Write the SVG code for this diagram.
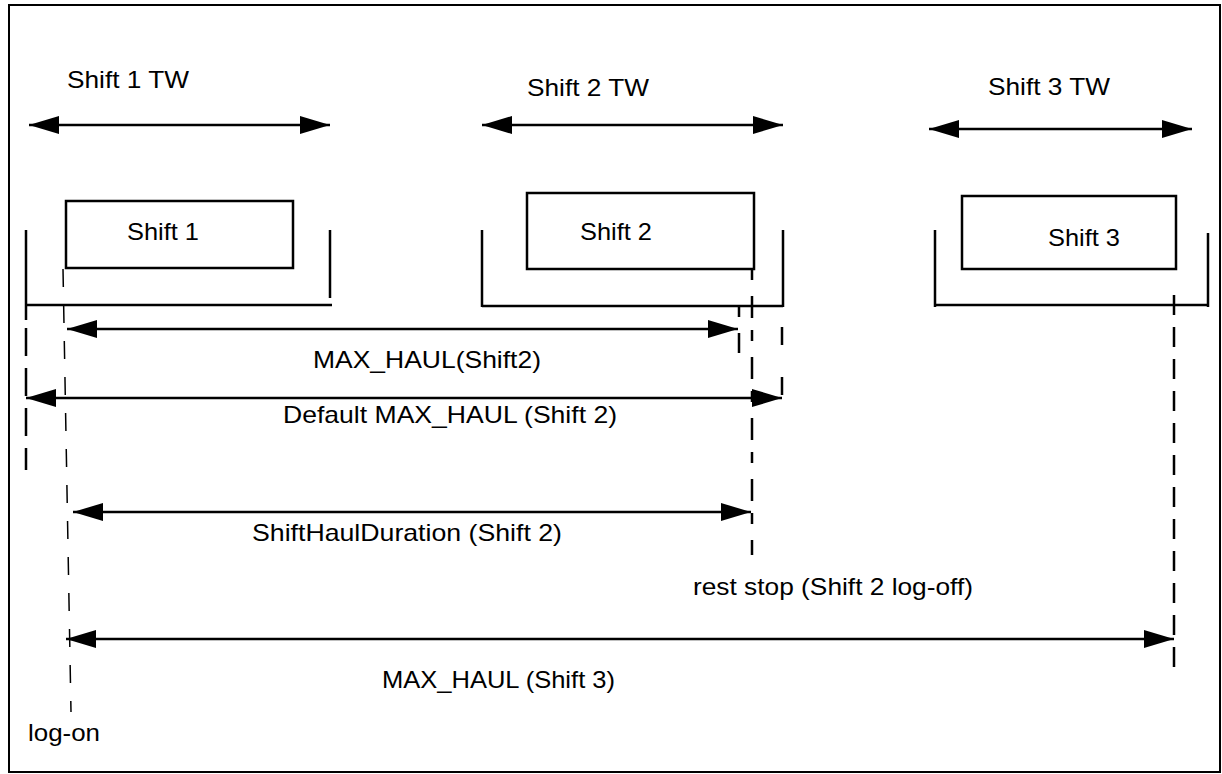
<svg xmlns="http://www.w3.org/2000/svg" width="1222" height="774" viewBox="0 0 1222 774">
<style>
.t{font-family:"Liberation Sans",Arial,sans-serif;font-size:24px;fill:#000}
.ln{stroke:#000;stroke-width:2.5;fill:none}
.box{stroke:#000;stroke-width:2.5;fill:#fff}
.dash{stroke:#000;stroke-width:2.5;fill:none;stroke-dasharray:24 12}
.thin{stroke:#000;stroke-width:1.5;fill:none;stroke-dasharray:18 18}
.arr{stroke:#000;stroke-width:2.5;fill:none;marker-start:url(#ah);marker-end:url(#ah)}
</style>
<defs>
<marker id="ah" markerUnits="userSpaceOnUse" markerWidth="30" markerHeight="18" refX="30" refY="9" orient="auto-start-reverse">
<path d="M0,0 L30,9 L0,18 z" fill="#000"/>
</marker>
</defs>
<rect x="9" y="5" width="1211" height="767" fill="#fff" stroke="#000" stroke-width="2"/>
<g id="connectors">
<line class="arr" x1="29" y1="125" x2="330" y2="125"/>
<line class="arr" x1="482" y1="125" x2="783" y2="125"/>
<line class="arr" x1="929" y1="129" x2="1192" y2="129"/>
<line class="arr" x1="67" y1="329" x2="738" y2="329"/>
<line class="arr" x1="26" y1="398" x2="782" y2="398"/>
<line class="arr" x1="73" y1="512" x2="751" y2="512"/>
<line class="arr" x1="66" y1="639" x2="1174" y2="639"/>
</g>
<g id="brackets">
<path class="ln" d="M26,230 V320 M330,230 V298 M26,305 H332"/>
<path class="ln" d="M482,230 V307 M783,230 V307 M482,306 H783"/>
<path class="ln" d="M935,230 V307 M1208,233 V307 M935,305 H1208"/>
</g>
<g id="guides">
<line class="dash" x1="26" y1="328" x2="26" y2="470" style="stroke-dasharray:28 12"/>
<line class="thin" x1="63" y1="269" x2="71" y2="712"/>
<line class="dash" x1="739" y1="307" x2="739" y2="382" style="stroke-dasharray:10 16 20 40"/>
<line class="dash" x1="752" y1="269" x2="752" y2="555" style="stroke-dasharray:11 16 22 12"/>
<line class="dash" x1="782" y1="307" x2="782" y2="405" style="stroke-dasharray:0 20 18 12"/>
<line class="dash" x1="1174" y1="295" x2="1174" y2="668" style="stroke-dasharray:20 12"/>
</g>
<g id="shift1">
<rect class="box" x="66" y="201" width="227" height="67"/>
<text class="t" x="127" y="240" textLength="72" lengthAdjust="spacingAndGlyphs">Shift 1</text>
</g>
<g id="shift2">
<rect class="box" x="527" y="193" width="227" height="76"/>
<text class="t" x="580" y="240" textLength="72" lengthAdjust="spacingAndGlyphs">Shift 2</text>
</g>
<g id="shift3">
<rect class="box" x="962" y="196" width="214" height="73"/>
<text class="t" x="1048" y="246" textLength="72" lengthAdjust="spacingAndGlyphs">Shift 3</text>
</g>
<g id="labels">
<text class="t" x="67" y="88" textLength="122" lengthAdjust="spacingAndGlyphs">Shift 1 TW</text>
<text class="t" x="527" y="96" textLength="122" lengthAdjust="spacingAndGlyphs">Shift 2 TW</text>
<text class="t" x="988" y="95" textLength="122" lengthAdjust="spacingAndGlyphs">Shift 3 TW</text>
<text class="t" x="313" y="368" textLength="228" lengthAdjust="spacingAndGlyphs">MAX_HAUL(Shift2)</text>
<text class="t" x="283" y="423" textLength="334" lengthAdjust="spacingAndGlyphs">Default MAX_HAUL (Shift 2)</text>
<text class="t" x="252" y="541" textLength="310" lengthAdjust="spacingAndGlyphs">ShiftHaulDuration (Shift 2)</text>
<text class="t" x="693" y="595" textLength="280" lengthAdjust="spacingAndGlyphs">rest stop (Shift 2 log-off)</text>
<text class="t" x="382" y="688" textLength="233" lengthAdjust="spacingAndGlyphs">MAX_HAUL (Shift 3)</text>
<text class="t" x="28" y="741" textLength="72" lengthAdjust="spacingAndGlyphs">log-on</text>
</g>
</svg>
